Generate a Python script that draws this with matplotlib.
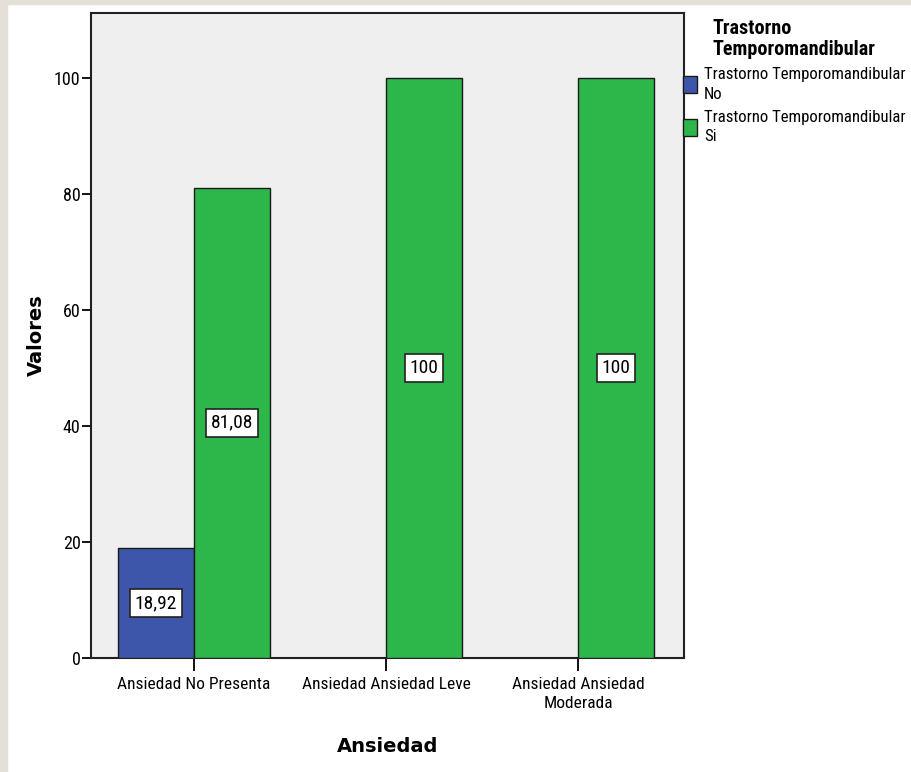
import matplotlib
matplotlib.use("Agg")
import matplotlib.pyplot as plt
from matplotlib.patches import Rectangle
import numpy as np

plt.rcParams['font.family'] = ['Roboto Condensed', 'Liberation Sans Narrow', 'Arial Narrow', 'Roboto']

# Porcentajes por nivel de ansiedad
categorias = ["Ansiedad No Presenta", "Ansiedad Ansiedad Leve", "Ansiedad Ansiedad\nModerada"]
ttm_no = [18.92, 0, 0]
ttm_si = [81.08, 100, 100]
series = ["Trastorno Temporomandibular\nNo", "Trastorno Temporomandibular\nSi"]
colores = ["#3D56AA", "#2DB74A"]

fig = plt.figure(figsize=(9.11, 7.72), dpi=100)
fig.patch.set_facecolor("white")
# franja beige de los bordes
fig.patches.append(Rectangle((0, 0), 7 / 911, 1, transform=fig.transFigure,
                             color="#E5E0D7", zorder=0))
fig.patches.append(Rectangle((0, 1 - 4 / 772), 1, 4 / 772, transform=fig.transFigure,
                             color="#E5E0D7", zorder=0))

ax = fig.add_axes([91 / 911, 114 / 772, 593 / 911, 645 / 772])
ax.set_facecolor("#EFEFEF")

x = np.arange(len(categorias))
ancho = 0.395


def etiqueta(xv, v):
    txt = f"{v:g}".replace(".", ",")
    ax.text(xv, v / 2, txt, ha="center", va="center", fontsize=14, zorder=5,
            bbox=dict(boxstyle="square,pad=0.24", fc="white", ec="#222222", lw=1.2))


for i, v in enumerate(ttm_no):
    if v > 0:
        ax.bar(x[i] - ancho / 2, v, ancho, color=colores[0], edgecolor="#1a1a1a", lw=1, zorder=3)
        etiqueta(x[i] - ancho / 2, v)
for i, v in enumerate(ttm_si):
    if v > 0:
        ax.bar(x[i] + ancho / 2, v, ancho, color=colores[1], edgecolor="#1a1a1a", lw=1, zorder=3)
        etiqueta(x[i] + ancho / 2, v)

ax.set_xlim(-0.536, 2.552)
ax.set_ylim(0, 111.2)
ax.set_yticks([0, 20, 40, 60, 80, 100])
ax.set_xticks(x)
ax.set_xticklabels(categorias, fontsize=12.5, linespacing=1.3)
ax.tick_params(axis="y", length=6.5, width=1.3, labelsize=13, pad=1)
ax.tick_params(axis="x", length=9, width=1.3, pad=5)
for s in ax.spines.values():
    s.set_linewidth(1.5)
    s.set_color("#222222")

ax.set_ylabel("Valores", fontsize=14, fontweight="bold", family="DejaVu Sans", labelpad=6)
ax.set_xlabel("Ansiedad", fontsize=14, fontweight="bold", family="DejaVu Sans", labelpad=19)

handles = [Rectangle((0, 0), 1, 1, fc=c, ec="#1a1a1a", lw=1) for c in colores]
leg = ax.legend(handles, series, title="Trastorno\nTemporomandibular", loc="upper left",
                bbox_to_anchor=(0.998, 0.99), frameon=False, fontsize=12.1,
                handlelength=0.85, handleheight=1.2, handletextpad=0.4,
                labelspacing=0.5, borderaxespad=0, borderpad=0)
leg.get_title().set_fontweight("bold")
leg.get_title().set_fontsize(14.5)
leg.get_title().set_linespacing(1.1)
for t in leg.get_texts():
    t.set_linespacing(1.35)

fig.savefig("out.png", dpi=100)
